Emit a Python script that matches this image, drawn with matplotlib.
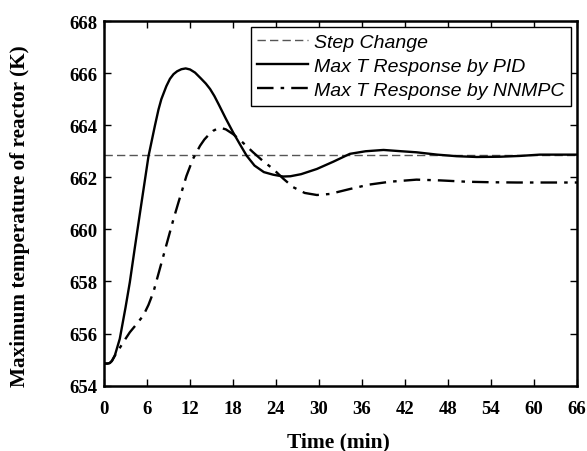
import matplotlib
matplotlib.use("Agg")
import matplotlib.pyplot as plt

# Data
step_t = [0, 66]
step_T = [662.85, 662.85]

pid_t = [0, 0.5, 0.8, 1.1, 1.5, 2.2, 3.0, 3.6, 4.3, 5.0, 5.6, 6.2, 7.1, 7.6, 8.0, 8.7,
         9.2, 9.7, 10.2, 10.8, 11.4, 12.0, 12.7, 13.5, 14.2, 14.8, 15.4, 16.0, 17.0,
         18.0, 19.0, 19.9, 21.0, 22.3, 23.6, 25.0, 26.0, 27.5, 29.7, 32.0, 34.3,
         36.5, 39.0, 41.5, 43.6, 46.5, 49.2, 52.0, 55.3, 58.0, 60.8, 66.0]
pid_T = [654.85, 654.85, 654.87, 654.95, 655.15, 655.8, 657.0, 657.97, 659.3, 660.6,
         661.7, 662.8, 663.98, 664.6, 665.0, 665.5, 665.78, 665.96, 666.07, 666.15,
         666.18, 666.14, 666.02, 665.8, 665.6, 665.39, 665.12, 664.8, 664.25, 663.73,
         663.25, 662.83, 662.45, 662.2, 662.1, 662.03, 662.04, 662.12, 662.32, 662.6,
         662.9, 663.0, 663.05, 663.0, 662.96, 662.87, 662.81, 662.78, 662.79, 662.82,
         662.87, 662.87]

nn_t = [0, 0.5, 0.8, 1.1, 1.5, 2.2, 3.0, 3.6, 4.5, 5.5, 6.2, 6.9, 7.6, 8.3, 9.0, 9.7,
        10.4, 11.5, 12.4, 13.4, 14.0, 14.5, 15.2, 15.9, 16.5, 17.0, 18.0, 19.3, 20.8,
        22.2, 23.6, 25.0, 26.4, 28.0, 29.7, 31.5, 34.3, 37.0, 39.9, 43.6, 47.0,
        50.6, 54.0, 57.6, 62.0, 66.0]
nn_T = [654.85, 654.85, 654.87, 654.95, 655.15, 655.45, 655.8, 656.05, 656.35, 656.7,
        657.1, 657.6, 658.3, 659.0, 659.7, 660.4, 661.05, 662.05, 662.7, 663.21,
        663.45, 663.6, 663.78, 663.88, 663.88, 663.84, 663.66, 663.35, 662.96, 662.62,
        662.32, 661.95, 661.62, 661.4, 661.32, 661.36, 661.55, 661.72, 661.83, 661.91,
        661.88, 661.83, 661.81, 661.8, 661.8, 661.8]

xticks = list(range(0, 67, 6))
yticks = list(range(654, 669, 2))

fig = plt.figure(figsize=(5.87, 4.52), dpi=100)
ax = fig.add_axes([0.1772, 0.1445, 0.8058, 0.8068])

ax.plot(step_t, step_T, color="#555555", lw=1.0, dashes=(6, 3), label="Step Change")
ax.plot(pid_t, pid_T, color="black", lw=1.7, label="Max T Response by PID")
ax.plot(nn_t, nn_T, color="black", lw=1.7, dashes=(7, 3, 1.5, 3),
        label="Max T Response by NNMPC")

ax.set_xlim(0, 66)
ax.set_ylim(654, 668)
ax.set_xticks(xticks)
ax.set_yticks(yticks)
tickfont = dict(family="Liberation Serif", weight="bold", size=13.5)
ax.set_xticklabels([str(v) for v in xticks], **tickfont)
ax.set_yticklabels([str(v) for v in yticks], **tickfont)
ax.tick_params(axis="x", direction="in", length=5, width=1, top=True, pad=10)
ax.tick_params(axis="y", direction="in", length=5, width=1, right=True, pad=5)
for s in ax.spines.values():
    s.set_linewidth(1.8)

ax.set_xlabel("Time (min)", family="Liberation Serif", weight="bold", size=15.5)
ax.set_ylabel("Maximum temperature of reactor (K)", family="Liberation Serif",
              weight="bold", size=15.3)
ax.xaxis.set_label_coords(0.496, -0.152)
ax.xaxis.label.set_va("center")
ax.yaxis.set_label_coords(-0.178, 0.468)
ax.yaxis.label.set_va("center")

leg = ax.legend(loc="upper right", prop=dict(family="Liberation Sans", style="italic", size=14),
                frameon=True, fancybox=False, edgecolor="black", framealpha=1,
                handlelength=2.6, borderaxespad=0.3, labelspacing=0.32,
                handletextpad=0.3, borderpad=0.35)
leg.get_frame().set_linewidth(1.0)

fig.savefig("out.png", dpi=100)
